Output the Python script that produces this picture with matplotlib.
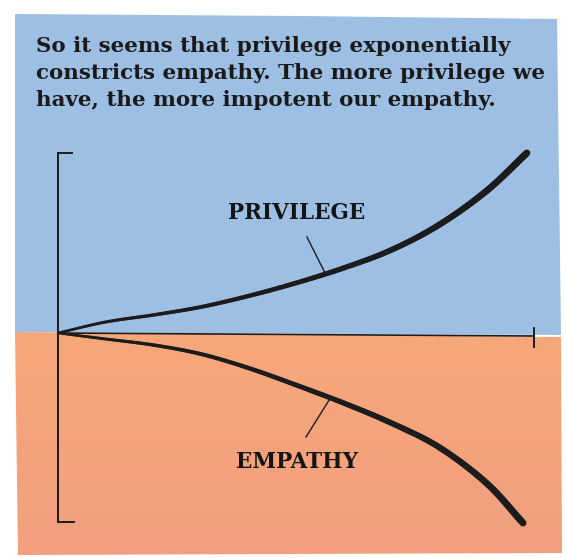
import numpy as np
import matplotlib
matplotlib.use("Agg")
import matplotlib.pyplot as plt
from matplotlib.patches import Polygon
from matplotlib.collections import LineCollection

# chart values (x in steps along the axis, y in drawing units above/below origin)
title_lines = [
    "So it seems that privilege exponentially",
    "constricts empathy. The more privilege we",
    "have, the more impotent our empathy.",
]
x_steps = [0, 1, 2, 3, 4, 5, 6, 7, 8, 9, 9.85]
privilege = [0, 11, 18, 26, 37, 50, 65, 83, 108, 142, 180]
x_steps_emp = [0, 1, 2, 3, 4, 5, 6, 7, 8, 9, 9.77]
empathy = [0, -6, -12, -21, -35, -52, -70, -90, -114, -150, -190]
labels = ["PRIVILEGE", "EMPATHY"]

W, H = 566, 558
BLUE = "#9ebfe4"
ORANGE_TOP = np.array([247, 168, 121]) / 255
ORANGE_BOT = np.array([241, 159, 128]) / 255
INK = "#1c1c1c"

fig = plt.figure(figsize=(W / 100, H / 100), dpi=100)
fig.patch.set_facecolor("white")

# background paper, pixel coordinates
bg = fig.add_axes([0, 0, 1, 1])
bg.set_xlim(0, W)
bg.set_ylim(H, 0)
bg.axis("off")
blue = Polygon([(15, 14), (300, 16), (557, 19), (561, 335), (15, 332)],
               closed=True, fc=BLUE, ec="none")
bg.add_patch(blue)
orange_poly = Polygon([(15, 332), (561, 337), (562, 553), (18, 555)],
                      closed=True, fc="none", ec="none")
bg.add_patch(orange_poly)
t = np.linspace(0, 1, 200)[:, None, None]
grad = ORANGE_TOP * (1 - t) + ORANGE_BOT * t
grad = np.repeat(grad, 2, axis=1)
im = bg.imshow(grad, extent=(15, 562, 555, 332), aspect="auto", zorder=1)
im.set_clip_path(orange_poly)

# chart axes: origin at pixel (58, 333), 47.6 px per x step, 1 px per y unit
ax = fig.add_axes([0, 0, 1, 1])
ax.patch.set_alpha(0)
ax.set_xlim(-58 / 47.6, (W - 58) / 47.6)
ax.set_ylim(-(H - 333), 333)
ax.axis("off")

# hand drawn axes
ax.plot([0, 0], [180, -189], color=INK, lw=1.4, solid_capstyle="round")
ax.plot([0, 0.3], [180, 180], color=INK, lw=1.4)
ax.plot([0, 0.33], [-189, -189], color=INK, lw=1.4)
ax.plot([0, 10], [0, -3], color=INK, lw=1.2)
ax.plot([10, 10], [5, -14], color=INK, lw=1.4)


def catmull_rom(xs, ys, n=20):
    p = np.column_stack([xs, ys]).astype(float)
    p = np.vstack([2 * p[0] - p[1], p, 2 * p[-1] - p[-2]])
    out = []
    for i in range(1, len(p) - 2):
        p0, p1, p2, p3 = p[i - 1], p[i], p[i + 1], p[i + 2]
        for s in np.linspace(0, 1, n, endpoint=False):
            out.append(0.5 * (2 * p1 + (-p0 + p2) * s
                              + (2 * p0 - 5 * p1 + 4 * p2 - p3) * s ** 2
                              + (-p0 + 3 * p1 - 3 * p2 + p3) * s ** 3))
    out.append(p[-2])
    return np.array(out)


def stroke(xs, ys, w0, w1):
    pts = catmull_rom(xs, ys).reshape(-1, 1, 2)
    segs = np.concatenate([pts[:-1], pts[1:]], axis=1)
    widths = np.linspace(w0, w1, len(segs))
    lc = LineCollection(segs, linewidths=widths, colors=INK, capstyle="round")
    ax.add_collection(lc)


stroke(x_steps, privilege, 1.8, 5.0)
stroke(x_steps_emp, empathy, 1.8, 5.0)

# labels with pointer lines
ax.plot([5.23, 5.61], [96, 60], color=INK, lw=1.0)
ax.plot([5.21, 5.71], [-104, -66], color=INK, lw=1.0)
ax.text(5.02, 120, labels[0], ha="center", va="center", fontsize=15.5,
        family="DejaVu Serif", weight="bold", color="#141414")
ax.text(5.02, -129, labels[1], ha="center", va="center", fontsize=15.5,
        family="DejaVu Serif", weight="bold", color="#141414")

# title
for i, line in enumerate(title_lines):
    y = 46 + 27 * i
    fig.text(36 / W, 1 - y / H, line, ha="left", va="center", fontsize=15.4,
             family="DejaVu Serif", weight="bold", color="#1a1a1a")

fig.savefig("out.png", dpi=100, facecolor="white")
